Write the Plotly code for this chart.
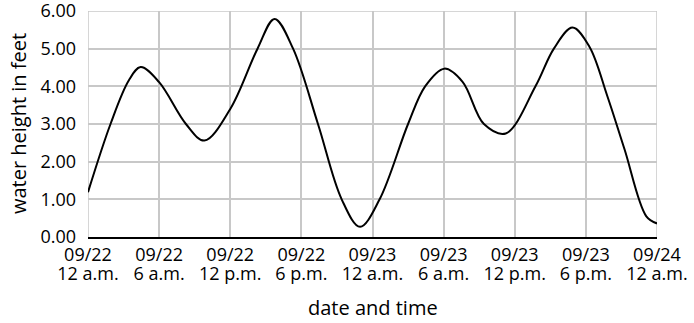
import plotly.graph_objects as go

# hours since 09/22 12 a.m.
hours = [0, 1.9, 3.45, 4.44, 6.0, 8.26, 9.82, 12.0, 14.3, 15.74, 17.3, 19.4, 21.4,
         22.95, 24.6, 27.0, 28.44, 30.06, 31.6, 33.4, 35.24, 37.75, 39.3, 40.87,
         42.3, 43.8, 45.26, 47.1, 48.0]
height = [1.19, 3.0, 4.16, 4.51, 4.11, 3.0, 2.56, 3.4, 5.0, 5.79, 5.0, 3.0, 1.0,
          0.27, 1.0, 3.0, 4.0, 4.47, 4.12, 3.0, 2.75, 4.0, 5.0, 5.56,
          5.05, 3.75, 2.33, 0.55, 0.36]

tick_hours = [0, 6, 12, 18, 24, 30, 36, 42, 48]
tick_dates = ["09/22", "09/22", "09/22", "09/22", "09/23", "09/23", "09/23", "09/23", "09/24"]
tick_times = ["12 a.m.", "6 a.m.", "12 p.m.", "6 p.m.", "12 a.m.", "6 a.m.", "12 p.m.", "6 p.m.", "12 a.m."]
y_ticks = [0, 1, 2, 3, 4, 5, 6]
y_labels = ["0.00", "1.00", "2.00", "3.00", "4.00", "5.00", "6.00"]

font_family = "Open Sans, Noto Sans, sans-serif"
grid = "#c8c8c8"

fig = go.Figure()
fig.add_trace(go.Scatter(x=hours, y=height, mode="lines",
                         line=dict(color="black", width=2, shape="spline", smoothing=1.0),
                         hoverinfo="skip"))
# invisible copy so the second (time-of-day) label axis is drawn
fig.add_trace(go.Scatter(x=hours, y=height, mode="lines", xaxis="x2",
                         line=dict(color="rgba(0,0,0,0)", width=0), hoverinfo="skip"))

fig.update_layout(
    width=694, height=323,
    margin=dict(l=88, r=37, t=11, b=86),
    plot_bgcolor="white", paper_bgcolor="white",
    showlegend=False,
    font=dict(family=font_family, color="black", size=18),
    xaxis=dict(range=[0, 48], tickvals=tick_hours, ticktext=tick_dates,
               showgrid=True, gridcolor=grid, gridwidth=1.5,
               showline=True, linecolor="black", linewidth=1.5,
               ticks="", zeroline=False, automargin=False,
               ticklabelstandoff=1, ticklabeloverflow="allow",
               tickfont=dict(size=18, family=font_family)),
    xaxis2=dict(range=[0, 48], tickvals=tick_hours, ticktext=tick_times,
                overlaying="x", anchor="y", side="bottom",
                showgrid=False, showline=False, zeroline=False, ticks="",
                automargin=False, ticklabelstandoff=24, ticklabeloverflow="allow",
                tickfont=dict(size=18, family=font_family)),
    yaxis=dict(range=[0, 6], tickvals=y_ticks, ticktext=y_labels,
               showgrid=True, gridcolor=grid, gridwidth=1.5,
               showline=False, zeroline=False, ticks="", automargin=False,
               ticklabelstandoff=11, ticklabeloverflow="allow",
               tickfont=dict(size=18, family=font_family)),
    shapes=[
        dict(type="line", xref="x", yref="y", x0=0, x1=0, y0=0, y1=6, line=dict(color=grid, width=1.5), layer="below"),
        dict(type="line", xref="x", yref="y", x0=48, x1=48, y0=0, y1=6, line=dict(color=grid, width=1.5), layer="below"),
        dict(type="line", xref="x", yref="y", x0=0, x1=48, y0=6, y1=6, line=dict(color=grid, width=1.5), layer="below"),
    ],
    annotations=[
        dict(text="date and time", xref="paper", yref="paper", x=0.5, y=-0.243,
             xanchor="center", yanchor="top", showarrow=False,
             font=dict(size=20, family=font_family, color="black")),
        dict(text="water height in feet", xref="paper", yref="paper", x=-0.123, y=0.5,
             xanchor="center", yanchor="middle", textangle=-90, showarrow=False,
             font=dict(size=20, family=font_family, color="black")),
    ],
)

fig.write_html("out.html", config={"displayModeBar": False},
               post_script="document.body.style.margin='0';")
